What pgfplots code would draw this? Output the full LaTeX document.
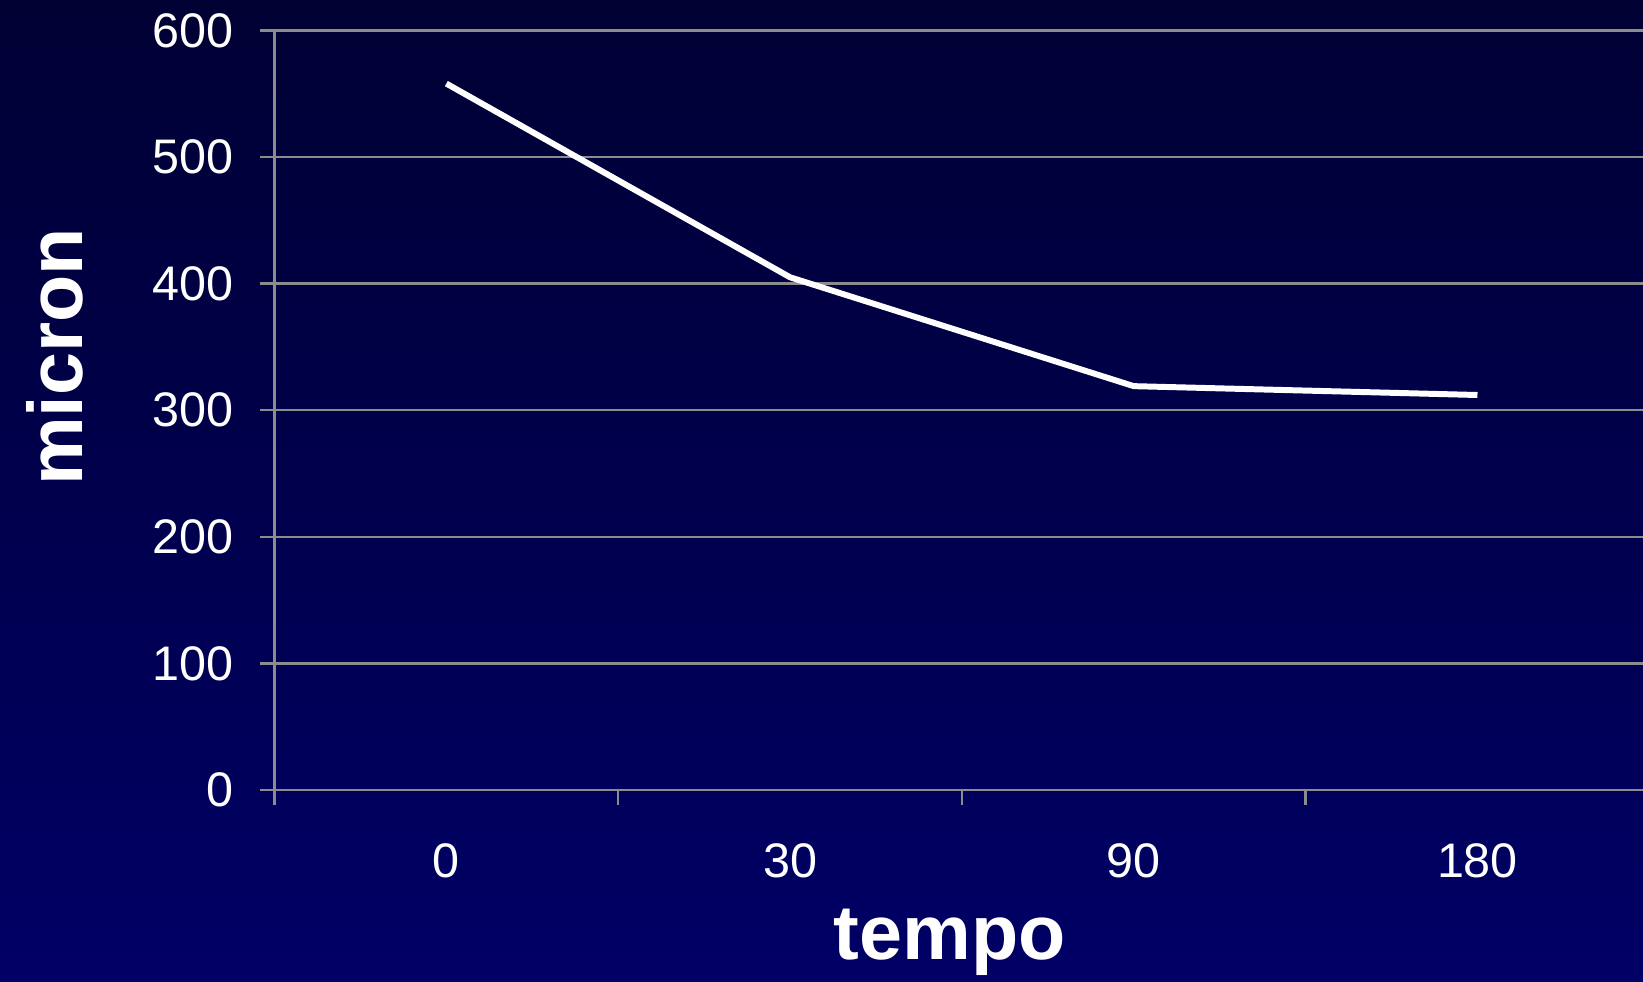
\documentclass[border=0pt]{standalone}
\usepackage{fontspec}
\setmainfont{Liberation Sans}
\usepackage{pgfplots}
\pgfplotsset{compat=1.18}
\definecolor{bgtop}{RGB}{0,0,51}
\definecolor{bgbot}{RGB}{0,0,102}
\definecolor{gridgray}{RGB}{140,140,140}
\begin{document}
\begin{tikzpicture}
\shade[top color=bgtop, bottom color=bgbot] (0,0) rectangle (164.3mm,98.2mm);
\begin{axis}[
  at={(27.45mm,19.2mm)}, anchor=south west,
  width=137.48mm, height=75.96mm, scale only axis,
  xmin=-0.5, xmax=3.5, ymin=0, ymax=600,
  axis lines=left,
  axis line style={-, gridgray, line width=0.7pt},
  xtick={0,1,2,3}, xticklabels={0,30,90,180},
  minor xtick={-0.5,0.5,1.5,2.5,3.5},
  major x tick style={draw=none},
  ytick={0,100,...,600},
  ymajorgrids,
  grid style={gridgray, line width=0.7pt},
  tick align=outside,
  tick style={gridgray, line width=0.7pt},
  major tick length=1.5mm, minor tick length=1.5mm,
  ticklabel style={font=\fontsize{13.8}{16}\selectfont, text=white},
  xticklabel style={yshift=-2.67mm},
  yticklabel style={xshift=-1.4mm},
  /pgf/number format/assume math mode=true,
  xlabel={tempo}, ylabel={micron},
  label style={font=\fontsize{22}{26}\selectfont\bfseries, text=white},
  xlabel style={at={(axis description cs:0.491,-0.2238)}, anchor=base},
  ylabel style={at={(axis description cs:-0.1393,0.570)}, anchor=base},
  clip=false,
]
\addplot[white, line width=1.7pt] coordinates {(0,558) (1,405) (2,319) (3,312)};
\end{axis}
\pgfresetboundingbox
\path[use as bounding box] (0,0) rectangle (164.3mm,98.2mm);
\end{tikzpicture}
\end{document}
